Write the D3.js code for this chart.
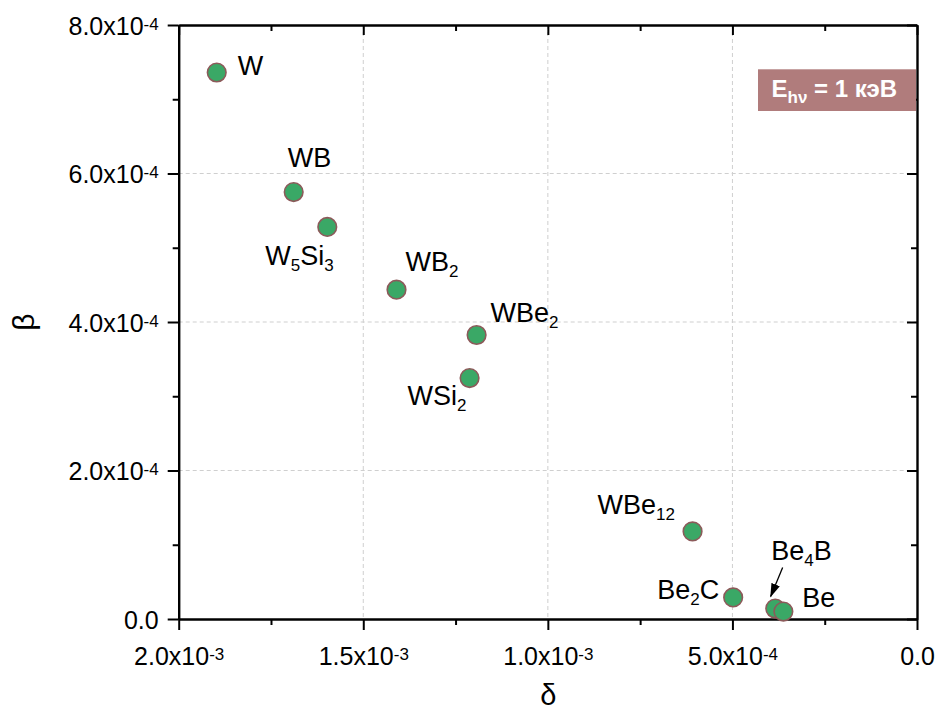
<!DOCTYPE html>
<html>
<head>
<meta charset="utf-8">
<script src="https://cdn.jsdelivr.net/npm/d3@7"></script>
<style>
  html, body { margin: 0; padding: 0; background: #fff; }
  svg { display: block; font-family: "Liberation Sans", Arial, sans-serif; }
</style>
</head>
<body>
<svg id="chart" width="937" height="711"></svg>
<script>
// Optical constants of W/Be compounds at 1 keV: δ (decrement) and β (absorption)
const materials = ["W", "WB", "W5Si3", "WB2", "WBe2", "WSi2", "WBe12", "Be2C", "Be4B", "Be"];
const deltaValues = [1.897e-3, 1.6885e-3, 1.5975e-3, 1.41e-3, 1.193e-3, 1.212e-3, 0.608e-3, 0.498e-3, 0.384e-3, 0.362e-3];
const betaValues = [7.36e-4, 5.75e-4, 5.28e-4, 4.435e-4, 3.825e-4, 3.245e-4, 1.18e-4, 2.9e-5, 1.4e-5, 1.0e-5];

const xMajorTicks = [2.0e-3, 1.5e-3, 1.0e-3, 5.0e-4, 0];
const xMinorTicks = [1.75e-3, 1.25e-3, 0.75e-3, 0.25e-3];
const yMajorTicks = [0, 2.0e-4, 4.0e-4, 6.0e-4, 8.0e-4];
const yMinorTicks = [1.0e-4, 3.0e-4, 5.0e-4, 7.0e-4];

// Label placement relative to each marker (pixels)
const labelOffsets = [
  [21, 2], [-6, -25], [-62, 38], [9, -19], [14, -13],
  [-62, 27], [-95, -17], [-76, 2], [-4, -49], [19, -5]
];

(function draw() {
const svg = d3.select("#chart");
const plotLeft = 178.7, plotRight = 917, plotTop = 25, plotBottom = 619;

const x = d3.scaleLinear().domain([2.0e-3, 0]).range([plotLeft, plotRight]);
const y = d3.scaleLinear().domain([0, 8.0e-4]).range([plotBottom, plotTop]);

// Grid
const grid = svg.append("g").attr("stroke", "#cfcfcf").attr("stroke-width", 1).attr("stroke-dasharray", "4,3");
grid.selectAll("line.gx").data(xMajorTicks.filter(d => d !== 0 && d !== 2.0e-3)).join("line")
  .attr("class", "gx")
  .attr("x1", d => x(d)).attr("x2", d => x(d)).attr("y1", plotTop).attr("y2", plotBottom);
grid.selectAll("line.gy").data(yMajorTicks.filter(d => d !== 0 && d !== 8.0e-4)).join("line")
  .attr("class", "gy")
  .attr("x1", plotLeft).attr("x2", plotRight).attr("y1", d => y(d)).attr("y2", d => y(d));

// Tick label formatting: mantissa x 10^exp with superscript
function sciParts(v) {
  if (v === 0) return null;
  const e = Math.floor(Math.log10(Math.abs(v)) + 1e-9);
  const m = v / Math.pow(10, e);
  return { m: m.toFixed(1), e: String(e) };
}
function writeSci(textSel) {
  textSel.each(function(d) {
    const t = d3.select(this);
    t.text(null);
    const p = sciParts(d);
    if (!p) { t.append("tspan").text("0.0"); return; }
    t.append("tspan").text(p.m + "x10");
    t.append("tspan").attr("font-size", 17).attr("dy", -5).text(p.e);
  });
}

const axisStroke = 2.4;
function styleAxis(g) {
  g.select(".domain").attr("stroke", "#000").attr("stroke-width", axisStroke);
  g.selectAll(".tick line").attr("stroke", "#000").attr("stroke-width", 2);
}
function styleMinor(g) {
  g.select(".domain").remove();
  g.selectAll(".tick line").attr("stroke", "#000").attr("stroke-width", 2);
}

// Bottom axis (outward ticks)
const gb = svg.append("g").attr("transform", `translate(0,${plotBottom})`)
  .call(d3.axisBottom(x).tickValues(xMajorTicks).tickSizeInner(11).tickSizeOuter(0).tickPadding(0));
styleAxis(gb);
gb.selectAll(".tick text").attr("font-size", 25).attr("fill", "#000").attr("y", 45.5).attr("dy", 0)
  .attr("font-family", "Liberation Sans, Arial, sans-serif").call(writeSci);
svg.append("g").attr("transform", `translate(0,${plotBottom})`)
  .call(d3.axisBottom(x).tickValues(xMinorTicks).tickSizeInner(6).tickSizeOuter(0).tickFormat(""))
  .call(styleMinor);

// Top axis (inward ticks)
const gt = svg.append("g").attr("transform", `translate(0,${plotTop})`)
  .call(d3.axisTop(x).tickValues(xMajorTicks).tickSizeInner(-10).tickSizeOuter(0).tickFormat(""));
styleAxis(gt);
svg.append("g").attr("transform", `translate(0,${plotTop})`)
  .call(d3.axisTop(x).tickValues(xMinorTicks).tickSizeInner(-6).tickSizeOuter(0).tickFormat(""))
  .call(styleMinor);

// Left axis (outward ticks)
const gl = svg.append("g").attr("transform", `translate(${plotLeft},0)`)
  .call(d3.axisLeft(y).tickValues(yMajorTicks).tickSizeInner(11).tickSizeOuter(0).tickPadding(0));
styleAxis(gl);
gl.selectAll(".tick text").attr("font-size", 25).attr("fill", "#000").attr("x", -20).attr("dy", "0.36em")
  .attr("font-family", "Liberation Sans, Arial, sans-serif").call(writeSci);
svg.append("g").attr("transform", `translate(${plotLeft},0)`)
  .call(d3.axisLeft(y).tickValues(yMinorTicks).tickSizeInner(6).tickSizeOuter(0).tickFormat(""))
  .call(styleMinor);

// Right axis (inward ticks)
const gr = svg.append("g").attr("transform", `translate(${plotRight},0)`)
  .call(d3.axisRight(y).tickValues(yMajorTicks).tickSizeInner(-10).tickSizeOuter(0).tickFormat(""));
styleAxis(gr);
svg.append("g").attr("transform", `translate(${plotRight},0)`)
  .call(d3.axisRight(y).tickValues(yMinorTicks).tickSizeInner(-6).tickSizeOuter(0).tickFormat(""))
  .call(styleMinor);

// Axis titles
svg.append("text").attr("x", (plotLeft + plotRight) / 2 + 0.5).attr("y", 705)
  .attr("text-anchor", "middle").attr("font-size", 29).text("δ");
svg.append("text").attr("transform", "translate(34,322) rotate(-90)")
  .attr("text-anchor", "middle").attr("font-size", 30).text("β");

// Points
const pts = materials.map((name, i) => ({ name, d: deltaValues[i], b: betaValues[i], off: labelOffsets[i] }));
svg.append("g").selectAll("circle").data(pts).join("circle")
  .attr("cx", p => x(p.d)).attr("cy", p => y(p.b)).attr("r", 9.3)
  .attr("fill", "#3aa866").attr("stroke", "#8c5a5a").attr("stroke-width", 1.6);

// Formula labels: digits become subscripts
const labels = svg.append("g").attr("font-size", 27).attr("fill", "#000");
pts.forEach(p => {
  const t = labels.append("text").attr("x", x(p.d) + p.off[0]).attr("y", y(p.b) + p.off[1]);
  const parts = p.name.match(/\d+|\D+/g);
  let sub = false;
  parts.forEach(s => {
    const isNum = /^\d+$/.test(s);
    const ts = t.append("tspan").text(s);
    if (isNum && !sub) { ts.attr("font-size", 17).attr("dy", 6); sub = true; }
    else if (!isNum && sub) { ts.attr("dy", -6); sub = false; }
    else if (isNum) ts.attr("font-size", 17);
  });
});

// Arrow pointing to Be4B
const be4b = pts[8];
svg.append("defs").append("marker").attr("id", "arrowHead")
  .attr("viewBox", "0 0 14 10").attr("refX", 13).attr("refY", 5)
  .attr("markerWidth", 14).attr("markerHeight", 10).attr("markerUnits", "userSpaceOnUse")
  .attr("orient", "auto")
  .append("path").attr("d", "M0,0.5 L14,5 L0,9.5 Z").attr("fill", "#000");
svg.append("line")
  .attr("x1", x(be4b.d) + 7.4).attr("y1", y(be4b.b) - 41)
  .attr("x2", x(be4b.d) - 4.6).attr("y2", y(be4b.b) - 12)
  .attr("stroke", "#000").attr("stroke-width", 1.3).attr("marker-end", "url(#arrowHead)");

// Energy annotation
const ann = svg.append("g");
ann.append("rect").attr("x", 758).attr("y", 69.3).attr("width", 158).attr("height", 41.7).attr("fill", "#b07c7c");
const at = ann.append("text").attr("x", 771.5).attr("y", 96.5).attr("fill", "#fff")
  .attr("font-weight", "bold").attr("font-size", 24);
at.append("tspan").text("E");
at.append("tspan").attr("font-size", 17).attr("dy", 6).text("hν");
at.append("tspan").attr("dy", -6).text(" = 1 кэВ");
})();
</script>
</body>
</html>
